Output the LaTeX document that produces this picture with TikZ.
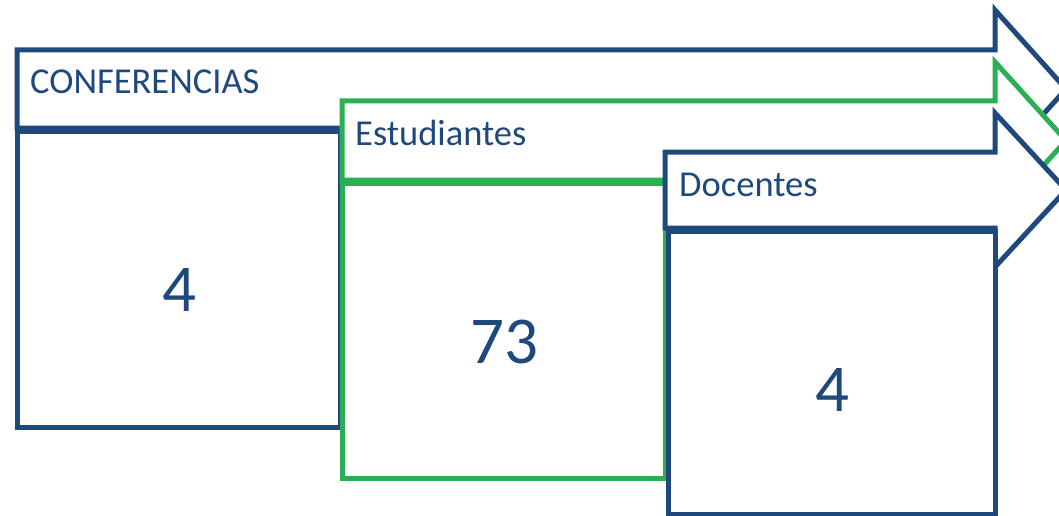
\documentclass[tikz,border=0pt]{standalone}
\usepackage{fontspec}
\setmainfont{Carlito}
\definecolor{dblue}{HTML}{1F497D}
\definecolor{dgreen}{HTML}{2AAF55}
\tikzset{
  bluepart/.style={draw=dblue, line width=5pt, fill=white, line join=miter},
  greenpart/.style={draw=dgreen, line width=5pt, fill=white, line join=miter},
  headtext/.style={text=dblue, anchor=base west, inner sep=0pt, font=\fontsize{36.5}{40}\selectfont},
  numtext/.style={text=dblue, anchor=center, inner sep=0pt, font=\fontsize{67}{70}\selectfont}
}
\begin{document}
\begin{tikzpicture}[x=1pt, y=-1pt]
\useasboundingbox (0,0) rectangle (1059,516);
\clip (0,0) rectangle (1059,516);
% arrow 1
\draw[bluepart] (17,50) -- (995,50) -- (995,10) -- (1066,89) -- (995,168) -- (995,128) -- (17,128) -- cycle;
\draw[bluepart] (17,131) rectangle (340,427);
% arrow 2
\draw[greenpart] (342,101) -- (995,101) -- (995,62) -- (1066,140.5) -- (995,219) -- (995,180) -- (342,180) -- cycle;
\draw[greenpart] (342,183) rectangle (665,478);
% arrow 3
\draw[bluepart] (665,152) -- (995,152) -- (995,113) -- (1066,190) -- (995,267) -- (995,228) -- (665,228) -- cycle;
\draw[bluepart] (668,231) rectangle (995,514);
% texts
\node[headtext] (t1) at (30,94) {CONFERENCIAS};
\node[headtext] (t2) at (355,145) {Estudiantes};
\node[headtext] (t3) at (679,196) {Docentes};
\node[numtext] (n1) at (179,290) {4};
\node[numtext] (n2) at (504,341.5) {73};
\node[numtext] (n3) at (832,390) {4};
\end{tikzpicture}
\end{document}
